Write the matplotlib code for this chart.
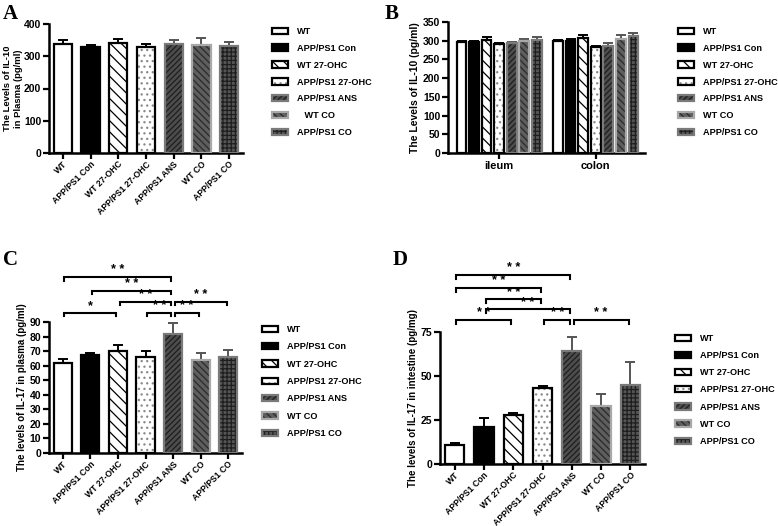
import matplotlib
matplotlib.use("Agg")
import matplotlib.pyplot as plt
import numpy as np
from matplotlib.patches import Patch
from matplotlib.legend_handler import HandlerTuple

plt.rcParams['font.family'] = ['Liberation Sans', 'DejaVu Sans']
plt.rcParams['font.weight'] = 'bold'
plt.rcParams['hatch.linewidth'] = 0.9

groups = ["WT", "APP/PS1 Con", "WT 27-OHC", "APP/PS1 27-OHC", "APP/PS1 ANS", "WT CO", "APP/PS1 CO"]
legend_labels_A = ["WT", "APP/PS1 Con", "WT 27-OHC", "APP/PS1 27-OHC", "APP/PS1 ANS", "   WT CO", "APP/PS1 CO"]

# Panel A: IL-10 plasma
a_vals = [338, 330, 342, 328, 337, 335, 331]
a_errs = [12, 6, 12, 10, 12, 22, 13]
# Panel B: IL-10 intestine
b_tissues = ["ileum", "colon"]
b_ileum_vals = [297, 296, 302, 291, 293, 298, 302]
b_ileum_errs = [3, 3, 7, 3, 4, 7, 7]
b_colon_vals = [298, 298, 306, 283, 287, 305, 312]
b_colon_errs = [5, 6, 8, 3, 7, 11, 9]
# Panel C: IL-17 plasma
c_vals = [62, 67, 70, 66, 82, 64, 66]
c_errs = [2.5, 1.5, 4, 4, 7, 5, 5]
# Panel D: IL-17 intestine
d_vals = [11, 21, 28, 43, 64, 33, 45]
d_errs = [1, 5, 1, 1.5, 8, 7, 13]

# significance comparisons (i, j, label)
c_sig = [(0, 4, "* *"), (1, 4, "* *"), (2, 4, "* *"), (0, 2, "*"), (3, 4, "* *"), (4, 6, "* *"), (4, 5, "* *")]
c_sig_levels = [121, 111.5, 104, 96.5, 96.5, 104, 96.5]
d_sig = [(0, 4, "* *"), (0, 3, "* *"), (1, 3, "* *"), (1, 4, "* *"), (0, 2, "* *"), (3, 4, "* *"), (4, 6, "* *")]
d_sig_levels = [107.4, 100, 93.7, 88, 81.8, 81.8, 81.8]

styles = [
    dict(face='white', hatch=None, hc='black', edge='black', err='black'),
    dict(face='black', hatch=None, hc='black', edge='black', err='black'),
    dict(face='white', hatch='\\\\\\', hc='black', edge='black', err='black'),
    dict(face='white', hatch='...', hc='#8a8a8a', edge='black', err='black'),
    dict(face='#4d4d4d', hatch='//////', hc='#1e1e1e', edge='#7a7a7a', err='#555555'),
    dict(face='#5e5e5e', hatch='\\\\\\\\\\', hc='#2a2a2a', edge='#a8a8a8', err='#555555'),
    dict(face='#555555', hatch='++++', hc='#1e1e1e', edge='#7a7a7a', err='#555555'),
]

W, H = 778, 526
fig = plt.figure(figsize=(W / 100, H / 100), dpi=100)

def ax_at(l, r, t, b):
    return fig.add_axes([l / W, 1 - b / H, (r - l) / W, (b - t) / H])

def style_ax(ax):
    for s in ['top', 'right']:
        ax.spines[s].set_visible(False)
    for s in ['left', 'bottom']:
        ax.spines[s].set_linewidth(1.8)
    ax.tick_params(axis='both', width=1.6, length=4, pad=1.5)
    ax.tick_params(axis='x', pad=0.8)
    ax.tick_params(axis='y', labelsize=7.5)
    for lab in ax.get_yticklabels():
        lab.set_fontweight('bold')

def draw_bar(ax, x, v, e, w, st):
    ax.bar(x, v, w, color=st['face'], edgecolor=st['hc'], hatch=st['hatch'], linewidth=0, zorder=2)
    ax.bar(x, v, w, facecolor='none', edgecolor=st['edge'], linewidth=1.6, zorder=3)
    ax.errorbar(x, v, yerr=[[0], [e]], fmt='none', ecolor=st['err'], elinewidth=1.4,
                capsize=3.5, capthick=1.4, zorder=1.5)

def handles():
    hs = []
    for st in styles:
        p1 = Patch(facecolor=st['face'], edgecolor=st['hc'], hatch=st['hatch'], linewidth=0)
        p2 = Patch(facecolor='none', edgecolor=st['edge'], linewidth=1.6)
        hs.append((p1, p2))
    return hs

def legend(x, y, labels, spacing):
    fig.legend(handles(), labels, loc='upper left', bbox_to_anchor=(x / W, 1 - y / H),
               frameon=False, handlelength=1.75, handleheight=0.7, handletextpad=1.0,
               labelspacing=spacing, borderaxespad=0, borderpad=0,
               handler_map={tuple: HandlerTuple(ndivide=1)},
               prop=dict(family='Liberation Sans', weight='bold', size=6.6))

def seven_bar(ax, vals, errs, ylim, yticks, ylabel):
    x = np.arange(len(groups))
    for i in range(len(groups)):
        draw_bar(ax, x[i], vals[i], errs[i], 0.66, styles[i])
    ax.set_xlim(-0.5, 6.5)
    ax.set_ylim(*ylim)
    ax.set_yticks(yticks)
    ax.set_xticks(x)
    ax.set_xticklabels(groups, rotation=45, ha='right', rotation_mode='anchor', fontsize=6.2, fontweight='bold')
    ax.set_ylabel(ylabel, fontsize=7, fontweight='bold', labelpad=2)
    style_ax(ax)

def brackets(ax, comps, levels, tick):
    for (i, j, lab), lv in zip(comps, levels):
        x1, x2 = i + 0.06, j - 0.06
        ax.plot([x1, x1, x2, x2], [lv - tick, lv, lv, lv - tick], color='black', lw=1.5,
                clip_on=False, solid_joinstyle='miter')
        ax.text((x1 + x2) / 2, lv + tick * 0.15, lab, ha='center', va='bottom', fontsize=9,
                fontweight='bold', clip_on=False)

# Panel A
axA = ax_at(49, 243, 24, 153)
seven_bar(axA, a_vals, a_errs, (0, 400), [0, 100, 200, 300, 400], "The Levels of IL-10\nin Plasma (pg/ml)")
axA.yaxis.label.set_size(6.8)
axA.yaxis.labelpad = 1
legend(272, 27, legend_labels_A, 0.855)

# Panel B
axB = ax_at(448, 645, 22, 153)
step = 0.13
for k, (vals, errs) in enumerate([(b_ileum_vals, b_ileum_errs), (b_colon_vals, b_colon_errs)]):
    for i in range(len(groups)):
        draw_bar(axB, k + (i - 3) * step, vals[i], errs[i], 0.1, styles[i])
axB.set_xlim(-0.53, 1.51)
axB.set_ylim(0, 350)
axB.set_yticks(range(0, 351, 50))
axB.set_xticks([0, 1])
axB.set_xticklabels(b_tissues, fontsize=8, fontweight='bold')
axB.set_ylabel("The Levels of IL-10 (pg/ml)", fontsize=7.5, fontweight='bold', labelpad=2)
style_ax(axB)
axB.tick_params(axis='x', pad=2)
legend(678, 27, groups, 0.855)

# Panel C
axC = ax_at(49, 242, 322, 453)
seven_bar(axC, c_vals, c_errs, (0, 90), range(0, 91, 10), "The levels of IL-17 in plasma (pg/ml)")
brackets(axC, c_sig, c_sig_levels, 2.5)
legend(262, 325, groups, 0.91)

# Panel D
axD = ax_at(440, 645, 332, 464)
seven_bar(axD, d_vals, d_errs, (0, 75), [0, 25, 50, 75], "The levels of IL-17 in intestine (pg/mg)")
brackets(axD, d_sig, d_sig_levels, 2.2)
legend(675, 334, groups, 0.89)

# panel letters
for lab, (x, y) in zip("ABCD", [(3, 4), (385, 4), (3, 250), (393, 250)]):
    fig.text(x / W, 1 - y / H, lab, ha='left', va='top', fontsize=15, fontweight='bold',
             family='Liberation Serif')

fig.savefig("out.png", dpi=100)
